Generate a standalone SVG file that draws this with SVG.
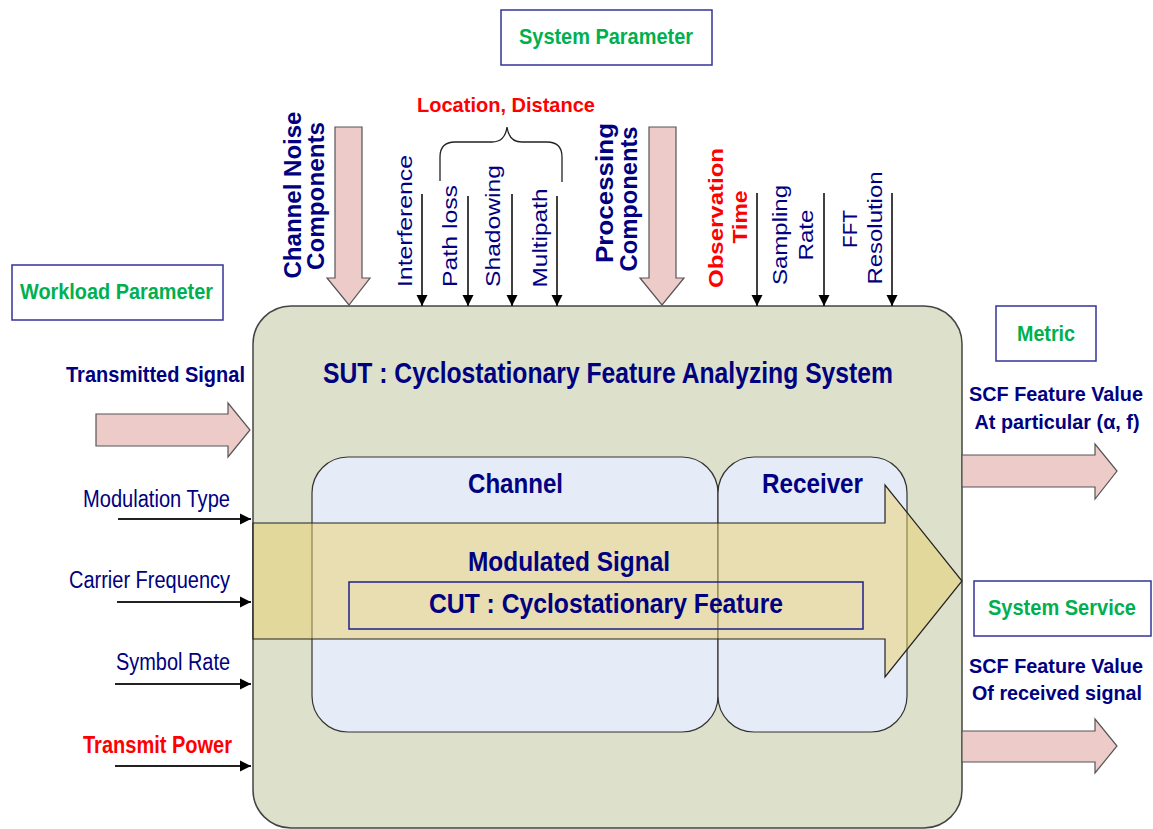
<svg xmlns="http://www.w3.org/2000/svg" width="1153" height="829" viewBox="0 0 1153 829">
<style>
text { font-family: "Liberation Sans", Arial, sans-serif; }
.b { font-weight: bold; }
.navy { fill: #000080; }
.green { fill: #00B050; }
.red { fill: #FF0000; }
.lbl { fill: #FFFFFF; stroke: #333399; stroke-width: 1.5; }
.pink { fill: #ECCBC8; stroke: #555555; stroke-width: 1.2; }
.thin { stroke: #000000; stroke-width: 1.5; fill: none; }
.in { stroke: #222222; stroke-width: 2; fill: none; }
</style>
<defs>
<marker id="ah" markerUnits="userSpaceOnUse" markerWidth="12" markerHeight="12" refX="11" refY="6" orient="auto">
<path d="M0,0.5 L11,6 L0,11.5 z" fill="#000"/>
</marker>
</defs>
<rect width="1153" height="829" fill="#FFFFFF"/>

<g id="sut">
<rect x="253" y="306" width="709" height="522" rx="38" fill="#DDE1CB" stroke="#444444" stroke-width="1.5"/>
<text class="b navy" x="323" y="383" font-size="29" textLength="570" lengthAdjust="spacingAndGlyphs">SUT : Cyclostationary Feature Analyzing System</text>
</g>

<g id="channel">
<rect x="312" y="457" width="406" height="275" rx="36" fill="#E6ECF7" stroke="#333333" stroke-width="1.2"/>
<text class="b navy" x="468" y="493" font-size="28" textLength="95" lengthAdjust="spacingAndGlyphs">Channel</text>
</g>
<g id="receiver">
<rect x="718" y="457" width="189" height="275" rx="36" fill="#E6ECF7" stroke="#333333" stroke-width="1.2"/>
<text class="b navy" x="762" y="493" font-size="28" textLength="101" lengthAdjust="spacingAndGlyphs">Receiver</text>
</g>

<g id="modulated-signal">
<polygon points="253,523 885,523 885,485 962,581 885,677 885,639 253,639" fill="#E9CF6C" fill-opacity="0.5" stroke="#222222" stroke-width="1.2"/>
<text class="b navy" x="468" y="571" font-size="28" textLength="202" lengthAdjust="spacingAndGlyphs">Modulated Signal</text>
</g>
<g id="cut">
<rect x="349" y="582" width="514" height="47" fill="none" stroke="#1F1F8F" stroke-width="1.5"/>
<text class="b navy" x="429" y="613" font-size="28" textLength="354" lengthAdjust="spacingAndGlyphs">CUT : Cyclostationary Feature</text>
</g>

<g id="system-parameter">
<rect class="lbl" x="501" y="10" width="211" height="55"/>
<text class="b green" x="519" y="44" font-size="22" textLength="174" lengthAdjust="spacingAndGlyphs">System Parameter</text>
</g>
<g id="workload-parameter">
<rect class="lbl" x="12" y="265" width="211" height="55"/>
<text class="b green" x="20" y="299" font-size="22" textLength="193" lengthAdjust="spacingAndGlyphs">Workload Parameter</text>
</g>
<g id="metric">
<rect class="lbl" x="996" y="306" width="100" height="55"/>
<text class="b green" x="1017" y="341" font-size="22" textLength="58" lengthAdjust="spacingAndGlyphs">Metric</text>
</g>
<g id="system-service">
<rect class="lbl" x="974" y="581" width="177" height="55"/>
<text class="b green" x="988" y="615" font-size="22" textLength="148" lengthAdjust="spacingAndGlyphs">System Service</text>
</g>

<g id="location-distance">
<text class="b red" x="417" y="112" font-size="21" textLength="178" lengthAdjust="spacingAndGlyphs">Location, Distance</text>
<path d="M440,181 L440,157 Q440,142 455,142 L492,142 Q505,142 507,127 Q509,142 522,142 L547,142 Q562,142 562,157 L562,182" fill="none" stroke="#222222" stroke-width="1.3"/>
</g>

<g id="channel-noise">
<text class="b navy" transform="translate(301,195) rotate(-90)" text-anchor="middle" font-size="23" textLength="167" lengthAdjust="spacingAndGlyphs">Channel Noise</text>
<text class="b navy" transform="translate(324,196) rotate(-90)" text-anchor="middle" font-size="23" textLength="148" lengthAdjust="spacingAndGlyphs">Components</text>
</g>
<g id="processing">
<text class="b navy" transform="translate(613,193) rotate(-90)" text-anchor="middle" font-size="23" textLength="140" lengthAdjust="spacingAndGlyphs">Processing</text>
<text class="b navy" transform="translate(637,199) rotate(-90)" text-anchor="middle" font-size="23" textLength="145" lengthAdjust="spacingAndGlyphs">Components</text>
</g>
<g id="top-inputs">
<text class="navy" transform="translate(412,221) rotate(-90)" text-anchor="middle" font-size="20" textLength="132" lengthAdjust="spacingAndGlyphs">Interference</text>
<text class="navy" transform="translate(457,236) rotate(-90)" text-anchor="middle" font-size="20" textLength="102" lengthAdjust="spacingAndGlyphs">Path loss</text>
<text class="navy" transform="translate(500,226) rotate(-90)" text-anchor="middle" font-size="20" textLength="122" lengthAdjust="spacingAndGlyphs">Shadowing</text>
<text class="navy" transform="translate(547,238) rotate(-90)" text-anchor="middle" font-size="20" textLength="99" lengthAdjust="spacingAndGlyphs">Multipath</text>
<text class="b red" transform="translate(723,218) rotate(-90)" text-anchor="middle" font-size="21" textLength="140" lengthAdjust="spacingAndGlyphs">Observation</text>
<text class="b red" transform="translate(747,217) rotate(-90)" text-anchor="middle" font-size="21" textLength="53" lengthAdjust="spacingAndGlyphs">Time</text>
<text class="navy" transform="translate(787,235) rotate(-90)" text-anchor="middle" font-size="20" textLength="100" lengthAdjust="spacingAndGlyphs">Sampling</text>
<text class="navy" transform="translate(813,235) rotate(-90)" text-anchor="middle" font-size="20" textLength="51" lengthAdjust="spacingAndGlyphs">Rate</text>
<text class="navy" transform="translate(857,229) rotate(-90)" text-anchor="middle" font-size="20" textLength="38" lengthAdjust="spacingAndGlyphs">FFT</text>
<text class="navy" transform="translate(882,228) rotate(-90)" text-anchor="middle" font-size="20" textLength="113" lengthAdjust="spacingAndGlyphs">Resolution</text>
</g>

<g id="left-inputs">
<text class="b navy" x="66" y="382" font-size="22" textLength="179" lengthAdjust="spacingAndGlyphs">Transmitted Signal</text>
<text class="navy" x="83" y="507" font-size="23" textLength="147" lengthAdjust="spacingAndGlyphs">Modulation Type</text>
<text class="navy" x="69" y="588" font-size="23" textLength="161" lengthAdjust="spacingAndGlyphs">Carrier Frequency</text>
<text class="navy" x="116" y="670" font-size="23" textLength="114" lengthAdjust="spacingAndGlyphs">Symbol Rate</text>
<text class="b red" x="83" y="753" font-size="23" textLength="149" lengthAdjust="spacingAndGlyphs">Transmit Power</text>
</g>

<g id="outputs">
<text class="b navy" x="1056" y="401" text-anchor="middle" font-size="20" textLength="174" lengthAdjust="spacingAndGlyphs">SCF Feature Value</text>
<text class="b navy" x="1057" y="429" text-anchor="middle" font-size="21" textLength="165" lengthAdjust="spacingAndGlyphs">At particular (α, f)</text>
<text class="b navy" x="1056" y="673" text-anchor="middle" font-size="20" textLength="174" lengthAdjust="spacingAndGlyphs">SCF Feature Value</text>
<text class="b navy" x="1057" y="700" text-anchor="middle" font-size="21" textLength="170" lengthAdjust="spacingAndGlyphs">Of received signal</text>
</g>

<g id="connectors">
<polygon class="pink" points="96,414 228,414 228,403 250,430 228,457 228,446 96,446"/>
<polygon class="pink" points="962,455 1095,455 1095,444 1117,471 1095,499 1095,487 962,487"/>
<polygon class="pink" points="962,731 1095,731 1095,719 1117,746 1095,773 1095,762 962,762"/>
<polygon class="pink" points="335,127 362,127 362,278 370,278 349,305 327,278 335,278"/>
<polygon class="pink" points="649,127 676,127 676,278 684,278 662,305 640,278 649,278"/>
<line class="thin" x1="422" y1="194" x2="422" y2="306" marker-end="url(#ah)"/>
<line class="thin" x1="468" y1="196" x2="468" y2="306" marker-end="url(#ah)"/>
<line class="thin" x1="512" y1="194" x2="512" y2="306" marker-end="url(#ah)"/>
<line class="thin" x1="557" y1="196" x2="557" y2="306" marker-end="url(#ah)"/>
<line class="thin" x1="757" y1="193" x2="757" y2="306" marker-end="url(#ah)"/>
<line class="thin" x1="824" y1="193" x2="824" y2="306" marker-end="url(#ah)"/>
<line class="thin" x1="892" y1="193" x2="892" y2="306" marker-end="url(#ah)"/>
<line class="in" x1="118" y1="519" x2="251" y2="519" marker-end="url(#ah)"/>
<line class="in" x1="117" y1="602" x2="251" y2="602" marker-end="url(#ah)"/>
<line class="in" x1="115" y1="684" x2="251" y2="684" marker-end="url(#ah)"/>
<line class="in" x1="115" y1="766" x2="251" y2="766" marker-end="url(#ah)"/>
</g>
</svg>
